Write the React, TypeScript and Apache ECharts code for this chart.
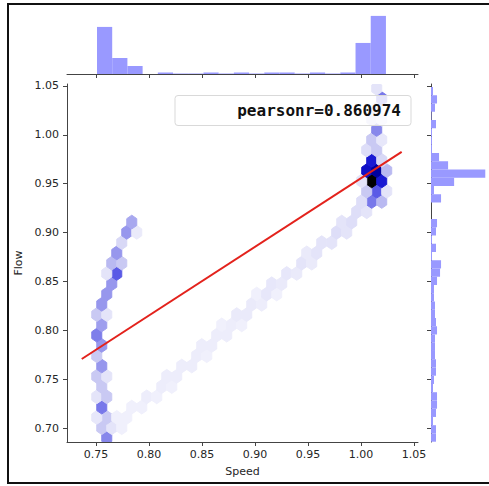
import React, { useEffect, useRef } from 'react';
import * as echarts from 'echarts';

// ---------- axes ----------
const xTicks = [0.75, 0.8, 0.85, 0.9, 0.95, 1.0, 1.05];
const yTicks = [0.7, 0.75, 0.8, 0.85, 0.9, 0.95, 1.0, 1.05];
const X_MIN = 0.7226;
const X_MAX = 1.0538;
const Y_MIN = 0.6857;
const Y_MAX = 1.052;

// ---------- hexbin grid (bin lattice in data units) ----------
const HEX_X0 = 0.7507; // Speed of lattice column 0
const HEX_HALF_DX = 0.004717; // half column step (Speed)
const HEX_Y0 = 0.6898; // Flow of lattice row 0
const HEX_HALF_DY = 0.010521; // row step (Flow)

// hex cells: lattice column (half steps), lattice row, count
const hexCol = [
  // left arm
  2, 1, 3, 2, 0, 1, 0, 2, 1, 0, 2, 1, 0, 1, 0, 1, 0, 2, 1, 2, 3, 4, 2, 3, 5, 4, 5, 6, 8, 7,
  // diagonal band
  5, 4, 6, 7, 9, 10, 12, 13, 15, 14, 16, 17, 19, 20, 22, 21, 23, 24, 26, 25, 27, 29, 28, 30, 31, 33,
  32, 34, 36, 35, 37, 38, 40, 41, 43, 42, 44, 45, 47, 48, 50, 49, 51, 52, 54,
  // cluster
  55, 57, 53, 56, 54, 58, 55, 57, 53, 54, 56, 58, 55, 57, 54, 56, 55, 57, 56, 55, 57, 56, 57, 56,
];
const hexRow = [
  0, 1, 1, 2, 2, 3, 4, 4, 5, 6, 6, 7, 8, 9, 10, 11, 12, 12, 13, 14, 15, 16, 16, 17, 17, 18, 19, 20, 20, 21,
  1, 2, 2, 3, 3, 4, 4, 5, 5, 6, 6, 7, 7, 8, 8, 9, 9, 10, 10, 11, 11, 11, 12, 12, 13, 13,
  14, 14, 14, 15, 15, 16, 16, 17, 17, 18, 18, 19, 19, 20, 20, 21, 21, 22, 22,
  23, 23, 23, 24, 24, 24, 25, 25, 25, 26, 26, 26, 27, 27, 28, 28, 29, 29, 30, 31, 31, 32, 33, 34,
];
const hexCount = [
  35, 15, 6, 15, 5, 40, 6, 15, 15, 15, 6, 30, 15, 30, 38, 28, 15, 6, 30, 30, 30, 50, 6, 20, 15, 30, 10, 30, 4, 25,
  2, 2, 2, 2, 2, 3, 2, 3, 2, 3, 3, 3, 3, 3, 2, 3, 3, 3, 3, 2, 3, 2, 4, 4, 4, 3,
  2, 5, 2, 5, 4, 5, 4, 6, 4, 4, 6, 6, 6, 8, 6, 6, 8, 8, 6,
  40, 20, 8, 50, 15, 6, 100, 70, 6, 75, 85, 20, 70, 10, 8, 15, 15, 5, 35, 10, 6, 12, 40, 6,
];
const HEX_MAX = 100;

// ---------- marginal histograms ----------
const TOP_BIN_START = 0.7509;
const TOP_BIN_WIDTH = 0.01435;
const topCounts = [94, 32, 16, 0, 3, 1, 1, 3, 1, 3, 1, 3, 3, 1, 3, 1, 3, 62, 116];

const RIGHT_BIN_START = 0.686;
const RIGHT_BIN_WIDTH = 0.00844;
const rightCounts = [
  10, 10, 4, 10, 12, 12, 4, 6, 10, 10, 8, 8, 8, 12, 10, 8, 8, 6, 6, 12, 18, 20, 2, 10, 2, 10, 12, 0, 0, 20,
  6, 46, 108, 34, 16, 2, 2, 2, 10, 1, 8, 12, 4,
];

// ---------- regression line ----------
const regSpeed = [0.7365, 1.0384];
const regFlow = [0.7706, 0.9825];
const pearsonText = 'pearsonr=0.860974';

const HIST_COLOR = '#9999ff';
const AXIS_COLOR = '#444';
const LABEL_COLOR = '#262626';
const FONT = 'DejaVu Sans';

export default function App() {
  const ref = useRef<HTMLDivElement>(null);

  useEffect(() => {
    if (!ref.current) return;
    const chart = echarts.init(ref.current, undefined, { renderer: 'svg' });

    const hexData = hexCol.map((k, i) => [
      HEX_X0 + k * HEX_HALF_DX,
      HEX_Y0 + hexRow[i] * HEX_HALF_DY,
      hexCount[i],
    ]);
    const topData = topCounts.map((c, i) => [TOP_BIN_START + i * TOP_BIN_WIDTH, c]);
    const rightData = rightCounts.map((c, i) => [c, RIGHT_BIN_START + i * RIGHT_BIN_WIDTH]);
    const topMax = Math.max(...topCounts) * 1.05;
    const rightMax = Math.max(...rightCounts) * 1.05;

    const hexOffsets = [
      [HEX_HALF_DX, -HEX_HALF_DY / 3],
      [HEX_HALF_DX, HEX_HALF_DY / 3],
      [0, (2 * HEX_HALF_DY) / 3],
      [-HEX_HALF_DX, HEX_HALF_DY / 3],
      [-HEX_HALF_DX, -HEX_HALF_DY / 3],
      [0, (-2 * HEX_HALF_DY) / 3],
    ];

    const tickStyle = { show: true, length: 4, lineStyle: { color: AXIS_COLOR, width: 1 } };
    const lineStyle = { show: true, lineStyle: { color: AXIS_COLOR, width: 1 } };

    const option: any = {
      animation: false,
      backgroundColor: '#ffffff',
      grid: [
        { left: 67, top: 84, width: 351, height: 358, outerBoundsMode: 'none' },
        { left: 67, top: 13, width: 351, height: 61, outerBoundsMode: 'none' },
        { left: 431, top: 84, width: 57, height: 358, outerBoundsMode: 'none' },
      ],
      xAxis: [
        {
          gridIndex: 0,
          type: 'value',
          min: X_MIN,
          max: X_MAX,
          name: 'Speed',
          nameLocation: 'middle',
          nameGap: 24,
          nameTextStyle: { color: LABEL_COLOR, fontSize: 11, fontFamily: FONT },
          axisLine: lineStyle,
          axisTick: { ...tickStyle, customValues: xTicks },
          axisLabel: {
            customValues: xTicks,
            formatter: (v: number) => v.toFixed(2),
            color: LABEL_COLOR,
            fontSize: 11,
            fontFamily: FONT,
            margin: 7,
          },
          splitLine: { show: false },
        },
        {
          gridIndex: 1,
          type: 'value',
          min: X_MIN,
          max: X_MAX,
          axisLine: lineStyle,
          axisTick: { ...tickStyle, customValues: xTicks },
          axisLabel: { show: false },
          splitLine: { show: false },
        },
        {
          gridIndex: 2,
          type: 'value',
          min: 0,
          max: rightMax,
          show: false,
          splitLine: { show: false },
        },
      ],
      yAxis: [
        {
          gridIndex: 0,
          type: 'value',
          min: Y_MIN,
          max: Y_MAX,
          name: 'Flow',
          nameLocation: 'middle',
          nameGap: 39,
          nameTextStyle: { color: LABEL_COLOR, fontSize: 11, fontFamily: FONT },
          axisLine: lineStyle,
          axisTick: { ...tickStyle, customValues: yTicks },
          axisLabel: {
            customValues: yTicks,
            formatter: (v: number) => v.toFixed(2),
            color: LABEL_COLOR,
            fontSize: 11,
            fontFamily: FONT,
            margin: 8,
          },
          splitLine: { show: false },
        },
        {
          gridIndex: 1,
          type: 'value',
          min: 0,
          max: topMax,
          show: false,
          splitLine: { show: false },
        },
        {
          gridIndex: 2,
          type: 'value',
          min: Y_MIN,
          max: Y_MAX,
          axisLine: lineStyle,
          axisTick: { ...tickStyle, customValues: yTicks },
          axisLabel: { show: false },
          splitLine: { show: false },
        },
      ],
      visualMap: {
        show: false,
        type: 'continuous',
        seriesIndex: 0,
        dimension: 2,
        min: 0,
        max: HEX_MAX,
        inRange: {
          color: ['#f6f6fd', '#c4c4f2', '#8c8cec', '#5a5ae6', '#2020dc', '#0000b0', '#000000'],
        },
      },
      series: [
        {
          type: 'custom',
          xAxisIndex: 0,
          yAxisIndex: 0,
          clip: true,
          z: 2,
          data: hexData,
          encode: { x: 0, y: 1 },
          renderItem: (_params: any, api: any) => {
            const cx = api.value(0);
            const cy = api.value(1);
            const pts = hexOffsets.map(([dx, dy]) => api.coord([cx + dx, cy + dy]));
            const c = api.visual('color');
            return {
              type: 'polygon',
              shape: { points: pts },
              style: { fill: c, stroke: c, lineWidth: 1 },
            };
          },
        },
        {
          type: 'line',
          xAxisIndex: 0,
          yAxisIndex: 0,
          z: 5,
          symbol: 'none',
          data: regSpeed.map((s, i) => [s, regFlow[i]]),
          lineStyle: { color: '#e3221c', width: 2 },
        },
        {
          type: 'custom',
          xAxisIndex: 1,
          yAxisIndex: 1,
          data: topData,
          encode: { x: 0, y: 1 },
          renderItem: (_params: any, api: any) => {
            const x0 = api.value(0);
            const c = api.value(1);
            const p0 = api.coord([x0, c]);
            const p1 = api.coord([x0 + TOP_BIN_WIDTH, 0]);
            return {
              type: 'rect',
              shape: { x: p0[0], y: p0[1], width: p1[0] - p0[0], height: p1[1] - p0[1] },
              style: { fill: HIST_COLOR },
            };
          },
        },
        {
          type: 'custom',
          xAxisIndex: 2,
          yAxisIndex: 2,
          data: rightData,
          encode: { x: 0, y: 1 },
          renderItem: (_params: any, api: any) => {
            const c = api.value(0);
            const y0 = api.value(1);
            const p0 = api.coord([0, y0 + RIGHT_BIN_WIDTH]);
            const p1 = api.coord([c, y0]);
            return {
              type: 'rect',
              shape: { x: p0[0], y: p0[1], width: p1[0] - p0[0], height: p1[1] - p0[1] },
              style: { fill: HIST_COLOR },
            };
          },
        },
      ],
      graphic: [
        {
          type: 'rect',
          z: 100,
          shape: { x: 175, y: 95.5, width: 236, height: 30, r: 3 },
          style: { fill: 'rgba(255,255,255,0.8)', stroke: '#d9d9d9', lineWidth: 1 },
        },
        {
          type: 'text',
          z: 101,
          x: 401,
          y: 110.5,
          style: {
            text: pearsonText,
            fill: '#111',
            font: 'bold 16px "DejaVu Sans Mono"',
            align: 'right',
            verticalAlign: 'middle',
          },
        },
        {
          type: 'rect',
          z: 100,
          shape: { x: 8, y: 4, width: 490, height: 479 },
          style: { fill: 'none', stroke: '#111', lineWidth: 2 },
        },
      ],
    };

    chart.setOption(option);
    return () => chart.dispose();
  }, []);

  return (
    <div
      ref={ref}
      style={{ position: 'fixed', left: 0, top: 0, width: 489, height: 486, background: '#fff' }}
    />
  );
}
